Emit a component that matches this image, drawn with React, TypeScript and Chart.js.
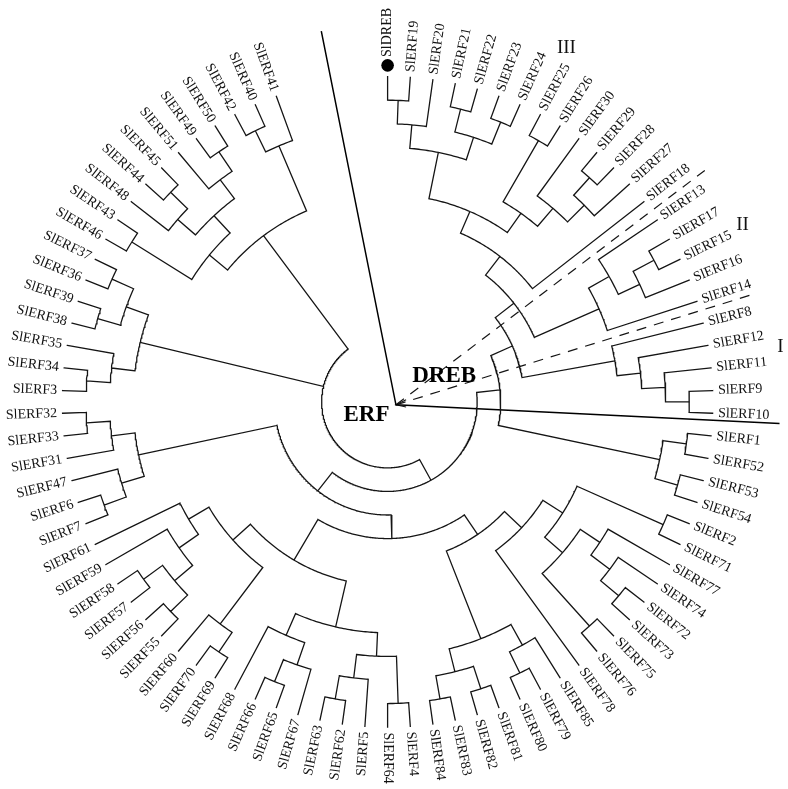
import React, { useEffect, useRef } from 'react';
import { Chart, registerables } from 'chart.js';

Chart.register(...registerables);

type Tree = string | Tree[];

// ---- tree topology (leaf order runs clockwise from the top) ----
const CLADE_III_A: Tree = [[['SlDREB', 'SlERF19'], 'SlERF20'], [['SlERF21', 'SlERF22'], ['SlERF23', 'SlERF24']]];
const CLADE_III_B: Tree = [['SlERF25', 'SlERF26'], ['SlERF30', [['SlERF29', 'SlERF28'], 'SlERF27']]];
const CLADE_II: Tree = [['SlERF13', [['SlERF17', 'SlERF15'], 'SlERF16']], 'SlERF14'];
const CLADE_I: Tree = ['SlERF8', ['SlERF12', ['SlERF11', ['SlERF9', 'SlERF10']]]];
const ERF_A: Tree = [['SlERF1', 'SlERF52'], ['SlERF53', 'SlERF54']];
const ERF_B: Tree = [
  [[['SlERF2', 'SlERF71'], [['SlERF77', ['SlERF74', ['SlERF72', 'SlERF73']]], ['SlERF75', 'SlERF76']]], 'SlERF78'],
  [['SlERF85', ['SlERF79', 'SlERF80']], [['SlERF81', 'SlERF82'], ['SlERF83', 'SlERF84']]],
];
const ERF_C: Tree = [
  [[['SlERF4', 'SlERF64'], ['SlERF5', ['SlERF62', 'SlERF63']]], [['SlERF67', ['SlERF65', 'SlERF66']], 'SlERF68']],
  [[['SlERF69', 'SlERF70'], 'SlERF60'], [[[['SlERF55', 'SlERF56'], ['SlERF57', 'SlERF58']], 'SlERF59'], 'SlERF61']],
];
const ERF_D: Tree = [[['SlERF7', 'SlERF6'], 'SlERF47'], ['SlERF31', ['SlERF33', 'SlERF32']]];
const ERF_E: Tree = [[['SlERF3', 'SlERF34'], 'SlERF35'], [['SlERF38', 'SlERF39'], ['SlERF36', 'SlERF37']]];
const ERF_F: Tree = [
  [['SlERF46', 'SlERF43'], [['SlERF48', ['SlERF44', 'SlERF45']], ['SlERF51', ['SlERF49', 'SlERF50']]]],
  [['SlERF42', 'SlERF40'], 'SlERF41'],
];

const DREB_SUB: Tree = [[[[CLADE_III_A, CLADE_III_B], 'SlERF18'], CLADE_II], CLADE_I];
const DREB_NODE: Tree = [DREB_SUB, ERF_A];
const ERF_NODE: Tree = [[ERF_B, ERF_C], ERF_D];
const TREE: Tree = [[DREB_NODE, ERF_NODE], ERF_E, ERF_F];

const MARKED_LEAVES = ['SlDREB'];

// group labels (Roman numerals) around the DREB part
const GROUP_NAMES = ['III', 'II', 'I'];
const GROUP_ANGLES = [-63.2, -26.5, -8];

// subfamily titles near the centre (data coordinates)
const SUBFAMILY_NAMES = ['DREB', 'ERF'];
const SUBFAMILY_X = [57.5, -21.5];
const SUBFAMILY_Y = [26.5, -13.5];

// divider lines drawn from the hub
const SOLID_ANGLES = [-101.3, 2.8];
const SOLID_LENGTHS = [386.5, 389.5];
const DASHED_ANGLES = [-37.2, -17.2];
const DASHED_LENGTHS = [394, 378];

// ---- layout constants ----
const LEAF_START_ANGLE = -90;
const LEAF_ANGLE_STEP = 4;
const TIP_R = 330.5;
const LEVEL_STEP = 23.95;
const LABEL_GAP = 5.5;
const MARK_R = 342;
const MARK_TEXT_R = 350.5;
const GROUP_R = 403;
const HUB = { x: 8.5, y: -3 };

type Node = { angle: number; h: number; name?: string; children: Node[] };

const rad = (d: number) => (d * Math.PI) / 180;
const pol = (r: number, a: number) => ({ x: r * Math.cos(rad(a)), y: -r * Math.sin(rad(a)) });
const radiusOf = (h: number) => TIP_R - h * LEVEL_STEP;

function lay(t: Tree, counter: { i: number }): Node {
  if (typeof t === 'string') {
    const a = LEAF_START_ANGLE + LEAF_ANGLE_STEP * counter.i;
    counter.i += 1;
    return { angle: a, h: 0, name: t, children: [] };
  }
  const ch = t.map((c) => lay(c, counter));
  const h = Math.max(...ch.map((c) => c.h)) + 1;
  const angle = (ch[0].angle + ch[ch.length - 1].angle) / 2;
  return { angle, h, children: ch };
}

const GAP = { x: NaN, y: NaN };

function buildBranches(root: Node) {
  const pts: { x: number; y: number }[] = [];
  const leaves: Node[] = [];
  const walk = (n: Node, parentR: number | null) => {
    const r = radiusOf(n.h);
    if (parentR !== null) {
      pts.push(pol(parentR, n.angle), pol(r, n.angle), GAP);
    }
    if (n.children.length) {
      const a1 = n.children[0].angle;
      const a2 = n.children[n.children.length - 1].angle;
      const steps = Math.max(2, Math.ceil(Math.abs(a2 - a1) / 0.5));
      for (let k = 0; k <= steps; k++) pts.push(pol(r, a1 + ((a2 - a1) * k) / steps));
      pts.push(GAP);
      n.children.forEach((c) => walk(c, r));
    } else {
      leaves.push(n);
    }
  };
  walk(root, null);
  return { pts, leaves };
}

export default function App() {
  const ref = useRef<HTMLCanvasElement | null>(null);

  useEffect(() => {
    if (!ref.current) return;
    const root = lay(TREE, { i: 0 });
    const { pts, leaves } = buildBranches(root);

    const fromHub = (len: number, a: number) => {
      const p = pol(len, a);
      return { x: HUB.x + p.x, y: HUB.y + p.y };
    };
    const solid: any[] = [];
    SOLID_ANGLES.forEach((a, i) => solid.push({ ...HUB }, fromHub(SOLID_LENGTHS[i], a), GAP));
    const dashed: any[] = [];
    DASHED_ANGLES.forEach((a, i) => dashed.push({ ...HUB }, fromHub(DASHED_LENGTHS[i], a), GAP));
    const arrow: any[] = [fromHub(11, -27), { ...HUB }, fromHub(10, 12)];

    const markers = leaves.filter((l) => MARKED_LEAVES.includes(l.name as string)).map((l) => pol(MARK_R, l.angle));

    const labelPlugin = {
      id: 'treeLabels',
      afterDatasetsDraw(chart: any) {
        const { ctx } = chart;
        const xs = chart.scales.x;
        const ys = chart.scales.y;
        const px = (p: { x: number; y: number }) => ({ x: xs.getPixelForValue(p.x), y: ys.getPixelForValue(p.y) });
        ctx.save();
        ctx.fillStyle = '#111';
        ctx.textBaseline = 'middle';
        ctx.font = '14px "Liberation Serif", "Times New Roman", serif';
        leaves.forEach((l) => {
          const r = MARKED_LEAVES.includes(l.name as string) ? MARK_TEXT_R : TIP_R + LABEL_GAP;
          const p = px(pol(r, l.angle));
          ctx.save();
          ctx.translate(p.x, p.y);
          if (Math.cos(rad(l.angle)) > -1e-6) {
            ctx.rotate(rad(l.angle));
            ctx.textAlign = 'left';
          } else {
            ctx.rotate(rad(l.angle - 180));
            ctx.textAlign = 'right';
          }
          ctx.fillText(l.name, 0, 0);
          ctx.restore();
        });
        ctx.font = '19px "Liberation Serif", "Times New Roman", serif';
        ctx.textAlign = 'center';
        GROUP_NAMES.forEach((g, i) => {
          const p = px(pol(GROUP_R, GROUP_ANGLES[i]));
          ctx.fillText(g, p.x, p.y);
        });
        ctx.font = 'bold 23px "Liberation Serif", "Times New Roman", serif';
        ctx.fillStyle = '#000';
        SUBFAMILY_NAMES.forEach((s, i) => {
          const p = px({ x: SUBFAMILY_X[i], y: SUBFAMILY_Y[i] });
          ctx.fillText(s, p.x, p.y);
        });
        ctx.restore();
      },
    };

    const lineBase = {
      showLine: true,
      pointRadius: 0,
      spanGaps: false,
      tension: 0,
      fill: false,
      borderColor: '#151515',
      borderCapStyle: 'square' as const,
      borderJoinStyle: 'miter' as const,
    };

    const chart = new Chart(ref.current, {
      type: 'scatter',
      data: {
        datasets: [
          { ...lineBase, label: 'branches', data: pts, borderWidth: 1.3 },
          { ...lineBase, label: 'dividers', data: solid, borderWidth: 1.5, borderColor: '#000' },
          { ...lineBase, label: 'dashed', data: dashed, borderWidth: 1.2, borderDash: [10, 8], borderCapStyle: 'butt' as const },
          { ...lineBase, label: 'arrow', data: arrow, borderWidth: 1.1 },
          { label: 'marker', data: markers, showLine: false, pointRadius: 6.3, pointBackgroundColor: '#000', pointBorderWidth: 0, pointBorderColor: '#000' },
        ] as any,
      },
      options: {
        animation: false,
        responsive: false,
        devicePixelRatio: 1,
        events: [],
        layout: { padding: 0 },
        plugins: { legend: { display: false }, tooltip: { enabled: false } },
        scales: {
          x: { type: 'linear', min: -387.5, max: 400.5, display: false },
          y: { type: 'linear', min: -387, max: 402, display: false },
        },
      },
      plugins: [labelPlugin],
    });
    return () => chart.destroy();
  }, []);

  return (
    <div style={{ position: 'fixed', left: 0, top: 0, width: 788, height: 789, background: '#fff' }}>
      <canvas ref={ref} width={788} height={789} style={{ width: 788, height: 789, display: 'block' }} />
    </div>
  );
}
